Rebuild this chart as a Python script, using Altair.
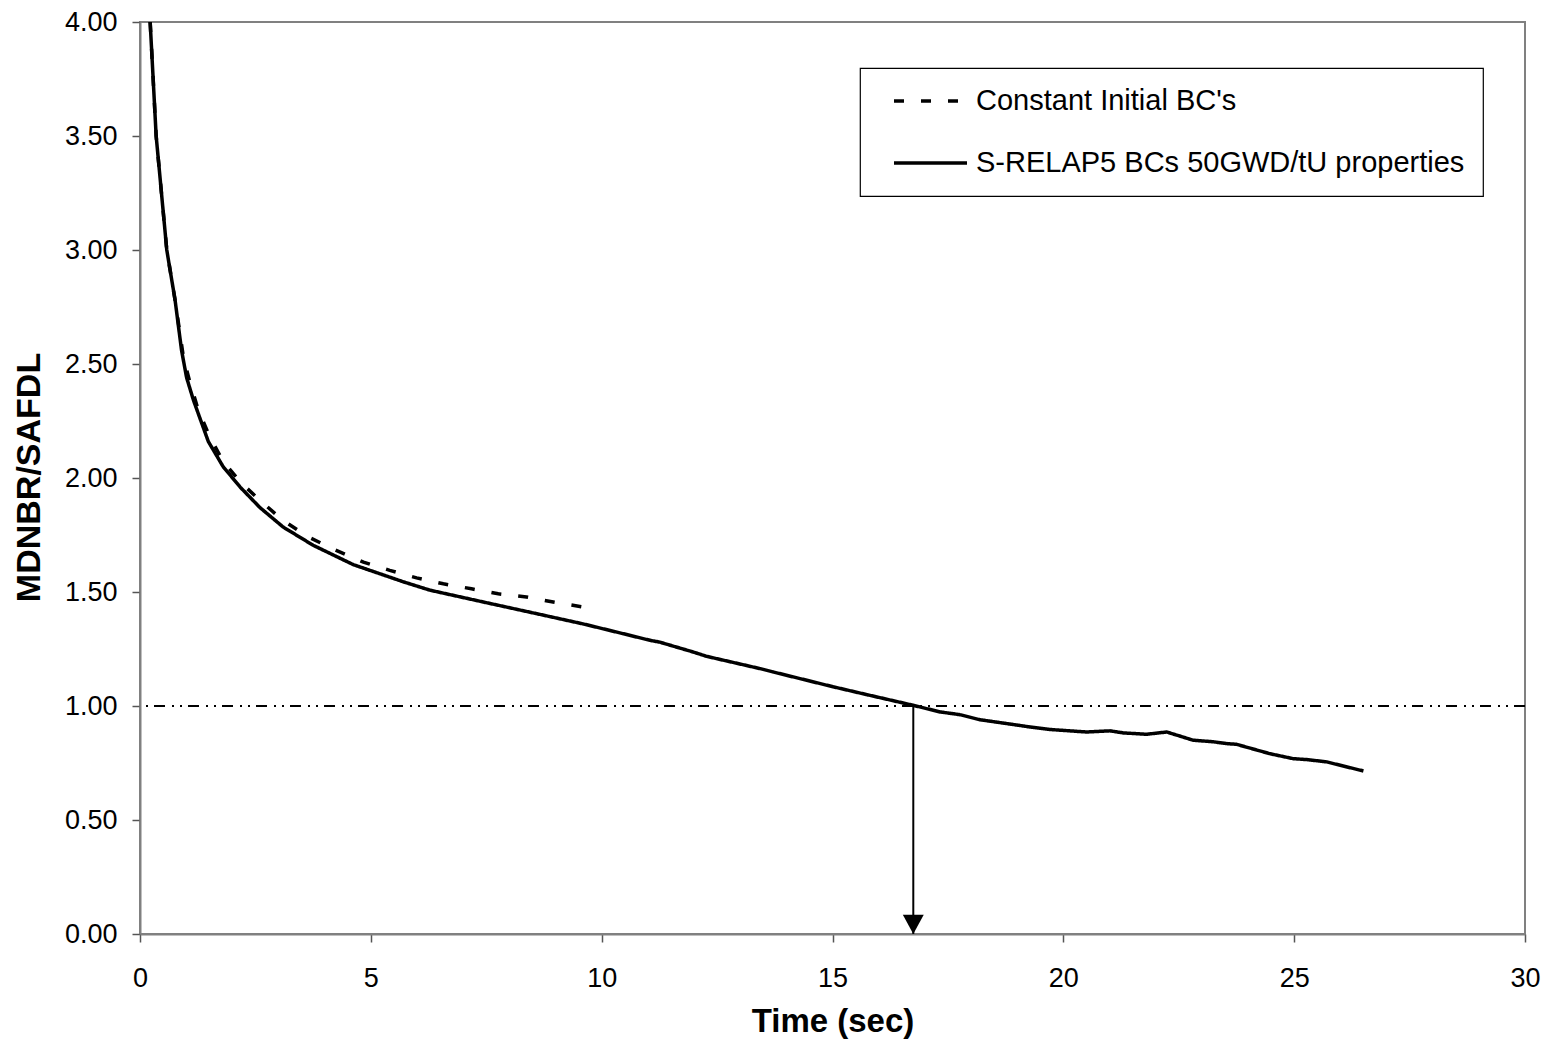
import altair as alt
import pandas as pd

# ---- data ----
series_names = ["Constant Initial BC's", "S-RELAP5 BCs 50GWD/tU properties"]

relap_time = [0.22, 0.35, 0.58, 0.76, 0.90, 1.01, 1.16, 1.48, 1.80, 2.17, 2.60, 3.10,
              3.75, 4.62, 5.70, 6.28, 7.44, 8.59, 9.60, 10.47, 11.05, 11.26, 11.98,
              12.27, 13.43, 13.72, 15.02, 15.74, 16.75, 17.33, 17.76, 18.19, 19.28,
              19.71, 20.50, 21.01, 21.30, 21.80, 22.24, 22.81, 23.25, 23.54, 23.75,
              24.47, 24.98, 25.27, 25.70, 26.50]
relap_val = [4.00, 3.50, 3.00, 2.78, 2.56, 2.44, 2.34, 2.16, 2.05, 1.96, 1.87, 1.785,
             1.705, 1.62, 1.545, 1.508, 1.456, 1.405, 1.36, 1.317, 1.288, 1.28, 1.237,
             1.218, 1.164, 1.149, 1.084, 1.05, 1.003, 0.974, 0.962, 0.94, 0.908,
             0.897, 0.886, 0.891, 0.882, 0.876, 0.886, 0.850, 0.843, 0.835, 0.832,
             0.791, 0.769, 0.765, 0.755, 0.715]

const_time = [0.22, 0.35, 0.58, 0.76, 0.94, 1.08, 1.26, 1.50, 1.80, 2.20, 2.64, 3.10,
              3.65, 4.22, 4.84, 5.41, 5.99, 6.57, 7.18, 7.76, 8.37, 8.95, 9.72]
const_val = [4.00, 3.50, 3.00, 2.78, 2.53, 2.42, 2.30, 2.186, 2.072, 1.977, 1.894, 1.814,
             1.741, 1.685, 1.631, 1.595, 1.562, 1.536, 1.514, 1.492, 1.478, 1.456, 1.43]

x_ticks = [0, 5, 10, 15, 20, 25, 30]
y_ticks = [0.0, 0.5, 1.0, 1.5, 2.0, 2.5, 3.0, 3.5, 4.0]
threshold = [1.0]
crossing_time = [16.75]
floor_val = [0.0]

FONT = "Liberation Sans"

lines_df = pd.concat([
    pd.DataFrame({"t": const_time, "v": const_val, "series": series_names[0]}),
    pd.DataFrame({"t": relap_time, "v": relap_val, "series": series_names[1]}),
], ignore_index=True)
thr_df = pd.DataFrame({"v": threshold})
arrow_df = pd.DataFrame({"t": crossing_time, "v": threshold, "v0": floor_val})

x_axis = alt.Axis(values=x_ticks, title="Time (sec)", grid=False, format="d",
                  labelFont=FONT, labelFontSize=27, labelColor="black", labelPadding=23,
                  labelFlush=False,
                  tickSize=8, tickColor="#555555", tickWidth=1.5,
                  domainColor="#808080", domainWidth=2,
                  titleFont=FONT, titleFontSize=33, titleFontWeight="bold", titleColor="black",
                  titleX=692.5, titleY=97, titleAlign="center", titleBaseline="alphabetic")
y_axis = alt.Axis(values=y_ticks, title="MDNBR/SAFDL", grid=False, format=".2f",
                  labelFont=FONT, labelFontSize=27, labelColor="black", labelPadding=15,
                  labelFlush=False,
                  tickSize=8, tickColor="#555555", tickWidth=1.5,
                  domainColor="#808080", domainWidth=2,
                  titleFont=FONT, titleFontSize=34, titleFontWeight="bold", titleColor="black",
                  titleX=-101, titleY=455, titleAngle=270, titleAlign="center",
                  titleBaseline="alphabetic")
x_scale = alt.Scale(domain=[0, 30], nice=False, zero=False)
y_scale = alt.Scale(domain=[0, 4], nice=False, zero=False)

lines = alt.Chart(lines_df).mark_line(strokeWidth=3.5, color="black", clip=True).encode(
    x=alt.X("t:Q", scale=x_scale, axis=x_axis),
    y=alt.Y("v:Q", scale=y_scale, axis=y_axis),
    strokeDash=alt.StrokeDash(
        "series:N",
        scale=alt.Scale(domain=series_names, range=[[10, 17], [1, 0]]),
        legend=alt.Legend(title=None, orient="none", legendX=720, legendY=46,
                          direction="vertical", symbolType="stroke", symbolSize=5329,
                          symbolStrokeWidth=3.5, symbolStrokeColor="black",
                          labelFont=FONT, labelFontSize=29, labelColor="black",
                          labelLimit=700, clipHeight=30,
                          labelOffset=7, rowPadding=32, padding=18, symbolOffset=14,
                          strokeColor="black", fillColor="white"),
    ),
    order="t:Q",
)

ref = alt.Chart(thr_df).mark_rule(color="black", strokeWidth=1.8,
                                  strokeDash=[11, 6, 2, 6, 2, 7]).encode(
    y=alt.Y("v:Q", scale=y_scale, axis=y_axis),
)

arrow_line = alt.Chart(arrow_df).mark_rule(color="black", strokeWidth=2).encode(
    x=alt.X("t:Q", scale=x_scale, axis=x_axis),
    y=alt.Y("v:Q", scale=y_scale, axis=y_axis),
    y2="v0:Q",
)

arrow_head = alt.Chart(arrow_df).mark_point(
    shape="M-0.54,-1L0.54,-1L0,0Z", size=1500, filled=True, color="black",
    opacity=1, strokeWidth=0,
).encode(
    x=alt.X("t:Q", scale=x_scale, axis=x_axis),
    y=alt.Y("v0:Q", scale=y_scale, axis=y_axis),
)

chart = alt.layer(ref, lines, arrow_line, arrow_head).properties(
    width=1385, height=912,
    autosize=alt.AutoSizeParams(type="none"),
    padding={"left": 132, "top": 14, "right": 18, "bottom": 105},
).configure_view(
    stroke="#808080", strokeWidth=2,
).configure_legend(
    strokeWidth=1.2,
)

chart.save("out.html", embed_options={"renderer": "svg", "actions": False})
